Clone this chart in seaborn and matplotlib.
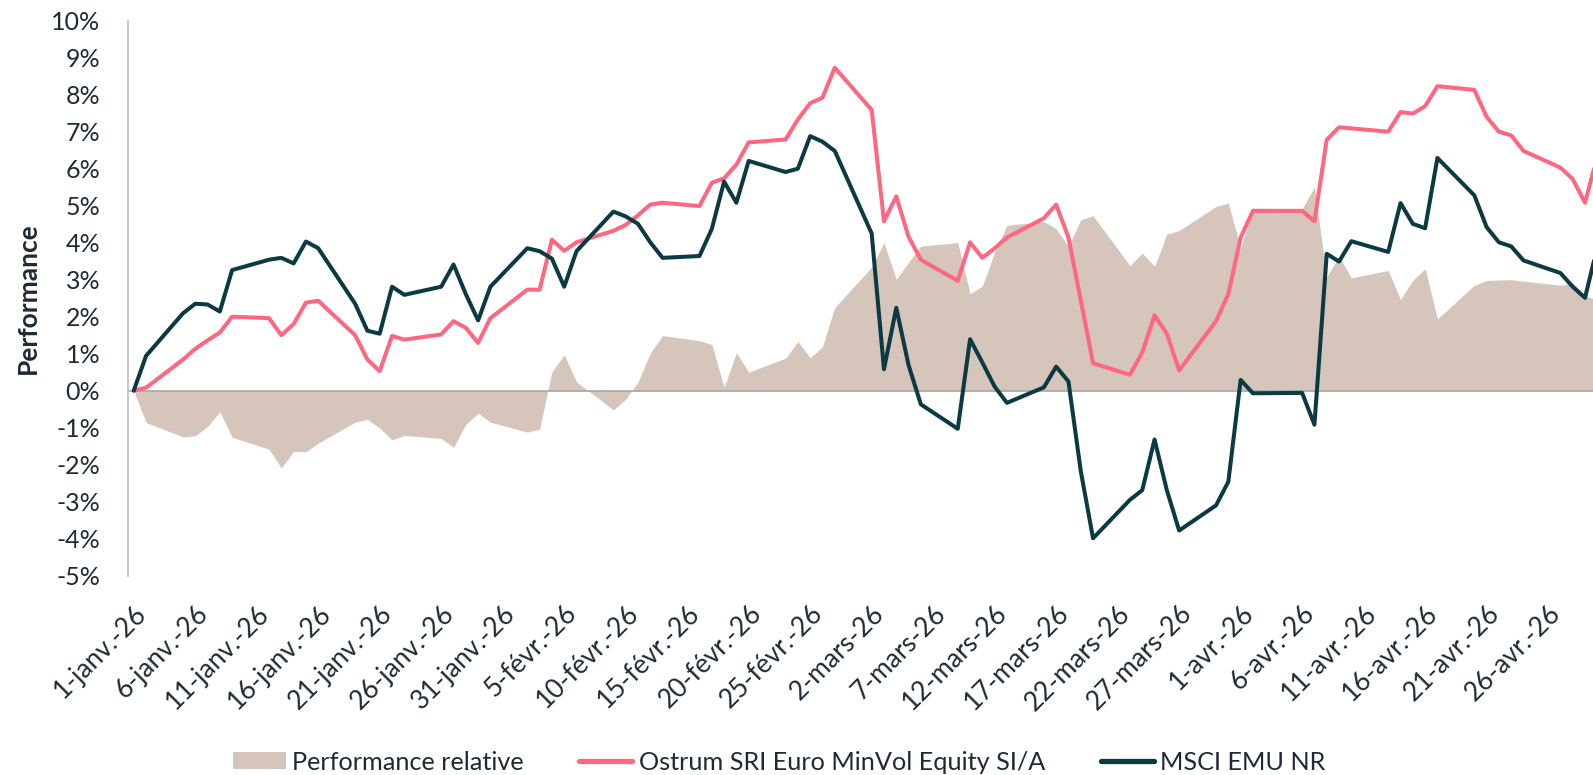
import numpy as np
import pandas as pd
import matplotlib
matplotlib.use("Agg")
import matplotlib.pyplot as plt
import seaborn as sns
from matplotlib.patches import Patch
from matplotlib.lines import Line2D

# ---------------- data (performance in %) ----------------
dates = (
    ["2026-01-%02d" % d for d in [1, 2, 5, 6, 7, 8, 9, 12, 13, 14, 15, 16, 19, 20, 21, 22, 23, 26, 27, 28, 29, 30]]
    + ["2026-02-%02d" % d for d in [2, 3, 4, 5, 6, 9, 10, 11, 12, 13, 16, 17, 18, 19, 20, 23, 24, 25, 26, 27]]
    + ["2026-03-%02d" % d for d in [2, 3, 4, 5, 6, 9, 10, 11, 12, 13, 16, 17, 18, 19, 20, 23, 24, 25, 26, 27, 30, 31]]
    + ["2026-04-%02d" % d for d in [1, 2, 6, 7, 8, 9, 10, 13, 14, 15, 16, 17, 20, 21, 22, 23, 24, 27, 28, 29, 30]]
)

fund = [
    0.00, 0.08, 0.84, 1.13, 1.36, 1.57, 2.00, 1.96, 1.50, 1.80, 2.38, 2.43, 1.50, 0.84, 0.53, 1.48, 1.38, 1.52, 1.88, 1.70, 1.29, 1.96,
    2.73, 2.73, 4.08, 3.78, 4.01, 4.32, 4.48, 4.74, 5.03, 5.08, 4.99, 5.62, 5.74, 6.11, 6.71, 6.79, 7.33, 7.77, 7.92, 8.73,
    7.59, 4.58, 5.25, 4.16, 3.54, 2.97, 4.01, 3.59, 3.85, 4.14, 4.66, 5.03, 4.14, 2.45, 0.74, 0.43, 1.03, 2.04, 1.54, 0.55, 1.88, 2.61,
    4.14, 4.86, 4.86, 4.58, 6.78, 7.12, 7.09, 7.00, 7.53, 7.49, 7.69, 8.23, 8.13, 7.40, 7.00, 6.90, 6.48, 6.03, 5.72, 5.08, 6.33,
]

bench = [
    0.00, 0.94, 2.09, 2.35, 2.33, 2.14, 3.26, 3.54, 3.59, 3.44, 4.03, 3.85, 2.35, 1.62, 1.54, 2.81, 2.59, 2.81, 3.41, 2.61, 1.90, 2.81,
    3.85, 3.77, 3.57, 2.81, 3.77, 4.84, 4.71, 4.51, 4.01, 3.59, 3.64, 4.37, 5.65, 5.08, 6.21, 5.91, 6.00, 6.88, 6.73, 6.48,
    4.25, 0.58, 2.24, 0.69, -0.37, -1.03, 1.39, 0.76, 0.11, -0.33, 0.09, 0.65, 0.25, -2.17, -3.99, -2.95, -2.69, -1.32, -2.69, -3.78, -3.10, -2.46,
    0.29, -0.07, -0.06, -0.92, 3.70, 3.49, 4.04, 3.75, 5.07, 4.51, 4.39, 6.29, 5.28, 4.42, 4.01, 3.90, 3.52, 3.18, 2.81, 2.51, 3.88,
]

y_ticks = list(range(-5, 11))
month_fr = {1: "janv.", 2: "févr.", 3: "mars", 4: "avr."}
series_names = ["Performance relative", "Ostrum SRI Euro MinVol Equity SI/A", "MSCI EMU NR"]

# ---------------- styling ----------------
PINK = "#FF6680"
DARK = "#0B3A43"
AREA = "#D5C5BA"
TXT = "#1E2B36"

sns.set_theme(style="white")
plt.rcParams['font.family'] = ['Lato', 'DejaVu Sans']

df = pd.DataFrame({"date": pd.to_datetime(dates), "fund": fund, "bench": bench})
df["rel"] = df["fund"] - df["bench"]

fig = plt.figure(figsize=(15.93, 7.75), dpi=100)
ax = fig.add_axes([0.0804, 0.2572, 0.9196, 0.7161])

ax.fill_between(df["date"], 0, df["rel"], color=AREA, lw=0, zorder=1)
ax.axhline(0, color="#A6A6A6", lw=1.2, zorder=2)
sns.lineplot(data=df, x="date", y="fund", color=PINK, lw=2.9, ax=ax, sort=False, estimator=None, zorder=3)
sns.lineplot(data=df, x="date", y="bench", color=DARK, lw=2.9, ax=ax, sort=False, estimator=None, zorder=4)

start = pd.Timestamp("2026-01-01")
ax.set_xlim(start - pd.Timedelta(days=0.46), start + pd.Timedelta(days=118.65))
ax.set_ylim(-5, 10)

ax.set_yticks(y_ticks)
ax.set_yticklabels([f"{v}%" for v in y_ticks], fontsize=18, color=TXT)

tick_dates = pd.date_range("2026-01-01", "2026-04-26", freq="5D")
ax.set_xticks(tick_dates)
ax.set_xticklabels([f"{d.day}-{month_fr[d.month]}-26" for d in tick_dates],
                   rotation=45, ha="right", va="top", rotation_mode="anchor",
                   fontsize=19, color=TXT)

ax.tick_params(axis="both", length=0)
ax.tick_params(axis="y", pad=20)
ax.tick_params(axis="x", pad=18)

for s in ["top", "right", "bottom"]:
    ax.spines[s].set_visible(False)
ax.spines["left"].set_color("#BFBFBF")
ax.spines["left"].set_linewidth(1.2)
ax.grid(False)

ax.set_xlabel("")
ax.set_ylabel("Performance", fontsize=19, fontweight="bold", color=TXT)
ax.yaxis.set_label_coords(-0.060, 0.5)

handles = [
    Patch(facecolor=AREA, edgecolor="none"),
    Line2D([0], [0], color=PINK, lw=3.8),
    Line2D([0], [0], color=DARK, lw=3.8),
]
fig.legend(handles, series_names, loc="center", bbox_to_anchor=(0.489, 0.0165), ncol=3,
           frameon=False, fontsize=18.2, handlelength=2.1, handleheight=0.67, handletextpad=0.25,
           columnspacing=2.2, labelcolor=TXT, borderpad=0.2)

fig.savefig("out.png", dpi=100)
